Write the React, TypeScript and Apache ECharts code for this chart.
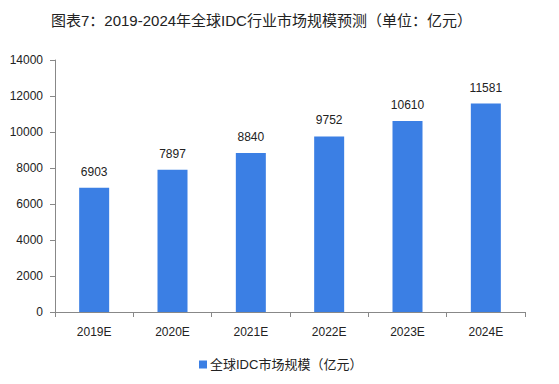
import React, { useEffect, useRef } from "react";
import * as echarts from "echarts";

const categories = ["2019E", "2020E", "2021E", "2022E", "2023E", "2024E"];
const values = [6903, 7897, 8840, 9752, 10610, 11581];
const seriesName = "全球IDC市场规模（亿元）";
const titleText = "图表7：2019-2024年全球IDC行业市场规模预测（单位：亿元）";

const FONT = "'Liberation Sans', 'Noto Sans CJK SC', sans-serif";

export default function App() {
  const ref = useRef<HTMLDivElement>(null);
  useEffect(() => {
    if (!ref.current) return;
    const chart = echarts.init(ref.current, null, { renderer: "svg" });
    chart.setOption({
      animation: false,
      backgroundColor: "#ffffff",
      textStyle: { fontFamily: FONT },
      title: {
        text: titleText,
        left: 46,
        top: 8,
        textStyle: { fontSize: 15, fontWeight: "normal", color: "#222", fontFamily: FONT },
      },
      grid: { left: 55, right: 34, top: 60, bottom: 72 },
      legend: {
        data: [seriesName],
        left: 194,
        top: 353,
        itemWidth: 8,
        itemHeight: 8,
        itemGap: 4,
        icon: "rect",
        textStyle: { fontSize: 13, color: "#222", fontFamily: FONT, padding: [0, 0, 0, -2] },
      },
      xAxis: {
        type: "category",
        data: categories,
        axisLine: { lineStyle: { color: "#888" } },
        axisTick: { show: true, length: 5, lineStyle: { color: "#888" } },
        axisLabel: { color: "#222", fontSize: 12, margin: 14, fontFamily: FONT },
      },
      yAxis: {
        type: "value",
        min: 0,
        max: 14000,
        interval: 2000,
        axisLine: { show: true, lineStyle: { color: "#888" } },
        axisTick: { show: true, length: 5, lineStyle: { color: "#888" } },
        splitLine: { show: false },
        axisLabel: {
          color: "#222",
          fontSize: 12,
          margin: 12,
          fontFamily: FONT,
          formatter: (v: number) => String(v),
        },
      },
      series: [
        {
          name: seriesName,
          type: "bar",
          data: values,
          barWidth: 30,
          itemStyle: { color: "#3b7fe4" },
          label: {
            show: true,
            position: "top",
            distance: 10,
            color: "#222",
            fontSize: 12,
            fontFamily: FONT,
          },
        },
      ],
    });
    return () => chart.dispose();
  }, []);
  return <div ref={ref} style={{ width: 559, height: 384, position: "absolute", left: 0, top: 0 }} />;
}
